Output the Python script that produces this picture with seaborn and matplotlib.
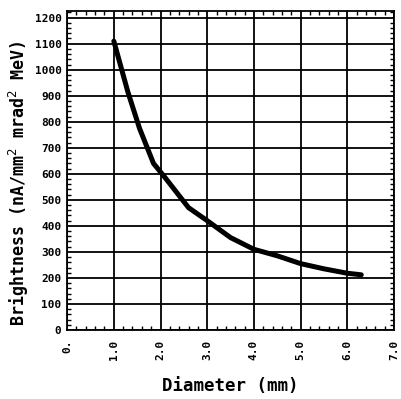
import pandas as pd
import seaborn as sns
import matplotlib.pyplot as plt
from matplotlib.ticker import MultipleLocator

# Значения
diameter = [1.0, 1.3, 1.55, 1.85, 2.1, 2.6, 3.0, 3.5, 4.0, 4.5, 5.0, 5.5, 6.0, 6.3]
brightness = [1110, 915, 775, 640, 585, 470, 420, 355, 310, 285, 255, 235, 218, 212]
x_ticks = [0, 1, 2, 3, 4, 5, 6, 7]
x_labels = ['0.', '1.0', '2.0', '3.0', '4.0', '5.0', '6.0', '7.0']
y_ticks = list(range(0, 1300, 100))

data = pd.DataFrame({'Diameter': diameter, 'Brightness': brightness})

sns.set_style('ticks')
plt.rcParams['font.family'] = ['DejaVu Sans Mono', 'DejaVu Sans']
plt.rcParams['mathtext.fontset'] = 'dejavusans'
plt.rcParams['text.color'] = 'black'
plt.rcParams['axes.labelcolor'] = 'black'
plt.rcParams['xtick.color'] = 'black'
plt.rcParams['ytick.color'] = 'black'

fig = plt.figure(figsize=(4.02, 3.99), dpi=100)
ax = fig.add_axes([0.167, 0.173, 0.813, 0.799])

sns.lineplot(x='Diameter', y='Brightness', data=data, color='black',
             linewidth=3.6, ax=ax, zorder=3)

ax.set_xlim(0, 7)
ax.set_ylim(0, 1225)
ax.set_xticks(x_ticks)
ax.set_xticklabels(x_labels, rotation=90, fontsize=8, fontweight='bold')
ax.set_yticks(y_ticks)
ax.set_yticklabels([str(v) for v in y_ticks], fontsize=8, fontweight='bold')
ax.xaxis.set_minor_locator(MultipleLocator(0.2))
ax.yaxis.set_minor_locator(MultipleLocator(20))
ax.tick_params(which='both', direction='in', top=True, right=True)
ax.tick_params(which='major', length=0)
ax.tick_params(axis='x', which='major', pad=7)
ax.tick_params(axis='y', which='major', pad=4)
ax.tick_params(which='minor', length=3, width=1)
ax.grid(True, which='major', color='black', linewidth=1.3)
for s in ax.spines.values():
    s.set_linewidth(1.3)
    s.set_color('black')

ax.set_xlabel('Diameter (mm)', fontsize=12.5, fontweight='bold', labelpad=12)
ax.set_ylabel('Brightness (nA/mm$^2$ mrad$^2$ MeV)', fontsize=12,
              fontweight='bold')
ax.yaxis.set_label_coords(-0.112, 0.46)

fig.savefig('out.png', dpi=100)
